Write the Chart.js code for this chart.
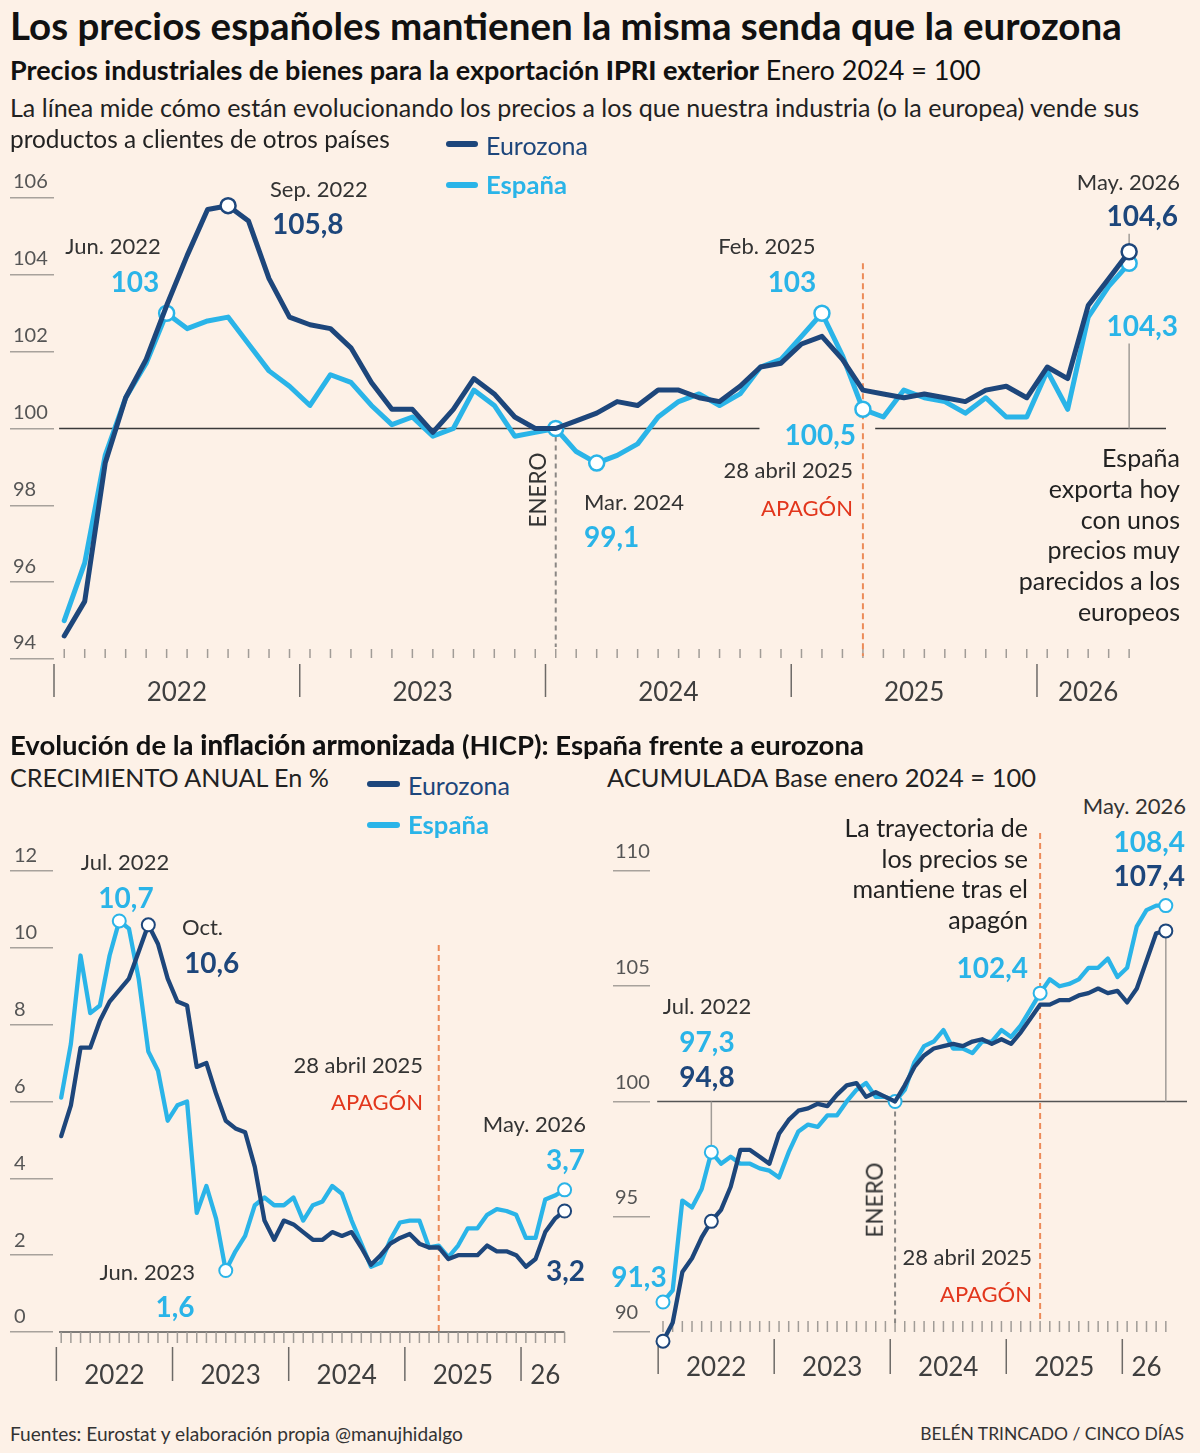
<!DOCTYPE html>
<html lang="es"><head><meta charset="utf-8">
<script src="https://cdn.jsdelivr.net/npm/chart.js@4.4.1/dist/chart.umd.min.js"></script>
<style>
html,body{margin:0;padding:0;background:#fdf1e7;}
body{width:1200px;height:1453px;position:relative;overflow:hidden;font-family:Lato,'Open Sans',sans-serif;color:#1a1a1a;}
.t{position:absolute;white-space:nowrap;line-height:1;z-index:2;}
.lg{position:absolute;height:6px;border-radius:3px;z-index:2;}
canvas{position:absolute;z-index:1;}
</style></head><body>
<canvas id="cTop" width="1200" height="580" style="left:0;top:150px"></canvas>
<canvas id="cHicp" width="600" height="590" style="left:0;top:830px"></canvas>
<canvas id="cAcc" width="600" height="590" style="left:600px;top:830px"></canvas>
<script>
// ---------- DATA ----------
const monthNames = ['ene','feb','mar','abr','may','jun','jul','ago','sep','oct','nov','dic'];
const categories = [];
for (let y = 2022; y <= 2026; y++) for (let m = 0; m < 12; m++) { if (y === 2026 && m > 4) break; categories.push(monthNames[m] + ' ' + y); }

const topYearLabels = ['2022', '2023', '2024', '2025', '2026'];
const hicpYearLabels = ['2022', '2023', '2024', '2025', '26'];

// IPRI exterior, base enero 2024 = 100
const ipriEurozona = [94.6, 95.5, 99.1, 100.8, 101.8, 103.2, 104.5, 105.7, 105.8, 105.4, 103.9, 102.9,
  102.7, 102.6, 102.1, 101.2, 100.5, 100.5, 99.9, 100.5, 101.3, 100.9, 100.3, 100.0,
  100.0, 100.2, 100.4, 100.7, 100.6, 101.0, 101.0, 100.8, 100.7, 101.1, 101.6, 101.7,
  102.2, 102.4, 101.8, 101.0, 100.9, 100.8, 100.9, 100.8, 100.7, 101.0, 101.1, 100.8,
  101.6, 101.3, 103.2, 103.9, 104.6];
const ipriEspana = [95.0, 96.5, 99.3, 100.8, 101.7, 103.0, 102.6, 102.8, 102.9, 102.2, 101.5, 101.1,
  100.6, 101.4, 101.2, 100.6, 100.1, 100.3, 99.8, 100.0, 101.0, 100.6, 99.8, 99.9,
  100.0, 99.4, 99.1, 99.3, 99.6, 100.3, 100.7, 100.9, 100.6, 100.9, 101.6, 101.8,
  102.4, 103.0, 101.9, 100.5, 100.3, 101.0, 100.8, 100.7, 100.4, 100.8, 100.3, 100.3,
  101.5, 100.5, 102.9, 103.7, 104.3];

// HICP crecimiento anual, %
const hicpEurozona = [5.1, 5.9, 7.4, 7.4, 8.1, 8.6, 8.9, 9.2, 9.9, 10.6, 10.1, 9.2,
  8.6, 8.5, 6.9, 7.0, 6.2, 5.5, 5.3, 5.2, 4.3, 2.9, 2.4, 2.9,
  2.8, 2.6, 2.4, 2.4, 2.6, 2.5, 2.6, 2.2, 1.75, 2.0, 2.3, 2.45,
  2.55, 2.3, 2.2, 2.2, 1.9, 2.0, 2.0, 2.0, 2.25, 2.1, 2.1, 2.0,
  1.7, 1.9, 2.6, 2.95, 3.15];
const hicpEspana = [6.1, 7.5, 9.8, 8.3, 8.5, 9.8, 10.7, 10.5, 9.2, 7.3, 6.8, 5.5,
  5.9, 6.0, 3.1, 3.8, 2.95, 1.6, 2.1, 2.5, 3.3, 3.5, 3.3, 3.3,
  3.5, 2.9, 3.3, 3.4, 3.8, 3.6, 2.9, 2.3, 1.7, 1.8, 2.4, 2.85,
  2.9, 2.9, 2.2, 2.25, 1.95, 2.25, 2.7, 2.7, 3.05, 3.2, 3.15, 3.05,
  2.45, 2.45, 3.45, 3.55, 3.7];

// HICP acumulada, base enero 2024 = 100
const accEurozona = [89.6, 90.4, 92.6, 93.2, 94.1, 94.8, 95.3, 96.3, 97.9, 97.9, 97.6, 97.3,
  98.6, 99.2, 99.6, 99.7, 99.9, 99.8, 100.3, 100.7, 100.8, 100.2, 100.4, 100.2,
  100.0, 100.7, 101.5, 102.0, 102.3, 102.4, 102.5, 102.4, 102.6, 102.7, 102.5, 102.7,
  102.5, 103.0, 103.6, 104.2, 104.2, 104.4, 104.4, 104.6, 104.7, 104.9, 104.7, 104.8,
  104.3, 104.9, 106.1, 107.3, 107.4];
const accEspana = [91.3, 91.8, 95.7, 95.4, 96.2, 97.8, 97.3, 97.6, 97.3, 97.3, 97.1, 97.0,
  96.7, 97.8, 98.7, 99.0, 98.9, 99.4, 99.4, 100.0, 100.5, 100.8, 100.2, 100.2,
  100.0, 100.5, 101.7, 102.4, 102.6, 103.1, 102.3, 102.3, 102.1, 102.6, 102.6, 103.1,
  102.8, 103.3, 104.0, 104.7, 105.3, 105.0, 105.1, 105.3, 105.8, 105.8, 106.2, 105.4,
  105.8, 107.6, 108.3, 108.5, 108.5];

// ---------- STYLE ----------
const DARK = '#1d467b', LIGHT = '#2ab4e8', ORANGE = '#ec8b59', RED = '#e2361c';
const GRIDC = '#a8a29c', TICKC = '#a19c97', SEPC = '#6d6a67';
const FONT = 'Lato, "Open Sans", sans-serif';
Chart.defaults.font.family = FONT;

const last = categories.length - 1;
const iEnero = categories.indexOf('ene 2024');
const iApagon = categories.indexOf('abr 2025');
const yearBounds = [];
categories.forEach((c, i) => { if (c.startsWith('ene')) yearBounds.push(i - 0.5); });
const yearCenters = yearBounds.map((b, k) => (b + (k + 1 < yearBounds.length ? yearBounds[k + 1] : last + 0.5)) / 2);

function seg(ctx, x1, y1, x2, y2, color, w, dash) {
  ctx.save();
  ctx.beginPath();
  ctx.strokeStyle = color; ctx.lineWidth = w; ctx.setLineDash(dash || []);
  ctx.moveTo(x1, y1); ctx.lineTo(x2, y2); ctx.stroke();
  ctx.restore();
}

function buildChart(id, cfg) {
  const mk = (label, vals, color, marks) => ({
    label, data: vals.map((v, i) => ({ x: i, y: v })),
    borderColor: color, borderWidth: cfg.lw, borderJoinStyle: 'round', borderCapStyle: 'round',
    pointRadius: c => marks.includes(c.dataIndex) ? cfg.pr : 0,
    pointHoverRadius: 0, pointBackgroundColor: '#ffffff', pointBorderColor: color, pointBorderWidth: cfg.pbw,
    tension: 0, clip: false
  });
  return new Chart(document.getElementById(id), {
    type: 'line',
    data: { datasets: [mk('Eurozona', cfg.ez, DARK, cfg.ezMarks), mk('España', cfg.es, LIGHT, cfg.esMarks)] },
    options: {
      responsive: false, animation: false, events: [],
      layout: { padding: cfg.pad },
      plugins: { legend: { display: false }, tooltip: { enabled: false } },
      scales: {
        x: {
          type: 'linear', min: cfg.xmin, max: cfg.xmax,
          afterFit: s => { s.height = cfg.xh; },
          afterBuildTicks: s => { s.ticks = yearCenters.map(v => ({ value: v })); },
          ticks: { autoSkip: false, maxRotation: 0, padding: cfg.xpad, color: '#3f3f3f',
            font: { family: FONT, size: 26 }, callback: (v, i) => cfg.years[i] },
          grid: { display: false, drawTicks: false }, border: { display: false }
        },
        y: {
          min: cfg.ymin, max: cfg.ymax,
          afterFit: s => { s.width = cfg.yw; },
          ticks: { stepSize: cfg.ystep, includeBounds: false, crossAlign: 'far', labelOffset: cfg.ylo, color: '#555',
            font: { family: FONT, size: 20 } },
          grid: { drawOnChartArea: false, drawTicks: true, tickLength: cfg.tl, color: GRIDC, lineWidth: 1.5 },
          border: { display: false }
        }
      }
    },
    plugins: [{
      id: 'deco',
      beforeDatasetsDraw(chart) {
        const X = v => chart.scales.x.getPixelForValue(v), Y = v => chart.scales.y.getPixelForValue(v);
        cfg.deco(chart.ctx, X, Y, chart.chartArea);
      }
    }]
  });
}

// ---------- TOP: IPRI ----------
buildChart('cTop', {
  ez: ipriEurozona, es: ipriEspana,
  ezMarks: [8, last], esMarks: [5, iEnero, iEnero + 2, 37, iApagon, last],
  lw: 5, pr: 7.5, pbw: 2.5,
  pad: { left: 13, top: 48, right: 34, bottom: 11 }, xh: 60,
  xmin: -0.5, xmax: 53.8, xpad: 18, years: topYearLabels,
  ymin: 94, ymax: 106, ystep: 2, yw: 41, tl: 44, ylo: -16,
  deco: (ctx, X, Y, a) => {
    seg(ctx, X(-0.25), Y(100), X(33.95), Y(100), '#3a3a3a', 1.5);
    seg(ctx, X(39.6), Y(100), a.right, Y(100), '#3a3a3a', 1.5);
    for (let i = 0; i <= last; i++) seg(ctx, X(i), a.bottom - 10, X(i), a.bottom - 1, TICKC, 1.5);
    yearBounds.forEach(b => seg(ctx, X(b), a.bottom + 5, X(b), a.bottom + 38, SEPC, 1.5));
    seg(ctx, X(iEnero), Y(100) + 8, X(iEnero), a.bottom - 12, '#8a8784', 2, [5, 4]);
    seg(ctx, X(iApagon), Y(104.3), X(iApagon), a.bottom - 3, ORANGE, 2, [6, 4]);
    seg(ctx, X(last), Y(ipriEurozona[last]) - 18, X(last), Y(ipriEurozona[last]) - 6, TICKC, 1.5);
    seg(ctx, X(last), Y(100) - 85, X(last), Y(100), TICKC, 1.5);
  }
});

// ---------- BOTTOM LEFT: HICP anual ----------
buildChart('cHicp', {
  ez: hicpEurozona, es: hicpEspana,
  ezMarks: [9, last], esMarks: [6, 17, last],
  lw: 4.3, pr: 6.5, pbw: 2,
  pad: { left: 14, top: 41, right: 32.5, bottom: 8 }, xh: 80,
  xmin: -0.847, xmax: 52.3, xpad: 28, years: hicpYearLabels,
  ymin: 0, ymax: 12, ystep: 2, yw: 39, tl: 43, ylo: -15,
  deco: (ctx, X, Y, a) => {
    seg(ctx, X(-0.23), Y(0), X(last), Y(0), '#555', 1.5);
    for (let i = 0; i <= last; i++) seg(ctx, X(i), Y(0), X(i), Y(0) + 11, TICKC, 1.5);
    yearBounds.forEach(b => seg(ctx, X(b), a.bottom + 15, X(b), a.bottom + 49, SEPC, 1.5));
    seg(ctx, X(iApagon), a.top + 74, X(iApagon), Y(0), ORANGE, 2, [6, 4]);
  }
});

// ---------- BOTTOM RIGHT: HICP acumulada ----------
buildChart('cAcc', {
  ez: accEurozona, es: accEspana,
  ezMarks: [0, 5, last], esMarks: [0, 5, iEnero, iApagon, last],
  lw: 4.3, pr: 6.5, pbw: 2,
  pad: { left: 15, top: 41, right: 13, bottom: 6.5 }, xh: 70,
  xmin: -1.344, xmax: 54.19, xpad: 9, years: hicpYearLabels,
  ymin: 89.5, ymax: 110, ystep: 5, yw: 35, tl: 37, ylo: -19,
  deco: (ctx, X, Y, a) => {
    const b90 = Y(90);
    seg(ctx, X(-0.6), Y(100), a.right, Y(100), '#555', 1.5);
    for (let i = 0; i <= last; i++) seg(ctx, X(i), b90 - 11, X(i), b90, TICKC, 1.5);
    yearBounds.forEach(b => seg(ctx, X(b), b90 + 7, X(b), b90 + 42, SEPC, 1.5));
    seg(ctx, X(iEnero), Y(100) + 1, X(iEnero), b90 - 9, '#8a8784', 2, [5, 4]);
    seg(ctx, X(iApagon), a.top - 48, X(iApagon), b90 - 9, ORANGE, 2, [6, 4]);
    seg(ctx, X(last), Y(accEurozona[last]) + 7, X(last), Y(100), TICKC, 1.5);
    seg(ctx, X(5), Y(100), X(5), Y(accEspana[5]) - 6, TICKC, 1.5);
  }
});

// ---------- TEXT ----------
function T(html, x, cy, o) {
  o = o || {};
  const d = document.createElement('div');
  d.className = 't';
  d.innerHTML = html;
  d.style.fontSize = (o.size || 22) + 'px';
  d.style.fontWeight = o.w || 400;
  d.style.color = o.c || '#333';
  d.style.top = cy + 'px';
  const al = o.a || 'l';
  let tx = '0';
  if (al === 'l') d.style.left = x + 'px';
  else if (al === 'c') { d.style.left = x + 'px'; tx = '-50%'; }
  else { d.style.right = (1200 - x) + 'px'; }
  d.style.transform = o.rot ? 'translate(-50%,-50%) rotate(-90deg)' : 'translate(' + tx + ',-50%)';
  if (o.rot) d.style.left = x + 'px';
  document.body.appendChild(d);
  if (o.fit) {
    const w = d.getBoundingClientRect().width;
    d.style.fontSize = ((o.size || 22) * o.fit / w) + 'px';
  }
  return d;
}
function L(x, y, w, color) {
  const d = document.createElement('div');
  d.className = 'lg';
  d.style.left = x + 'px'; d.style.top = (y - 3) + 'px'; d.style.width = w + 'px'; d.style.background = color;
  document.body.appendChild(d);
}

// Header
T('Los precios españoles mantienen la misma senda que la eurozona', 10, 25, { size: 34, w: 700, c: '#111', fit: 1112 });
T('<span style="font-weight:700">Precios industriales de bienes para la exportación </span><span style="font-weight:900">IPRI exterior</span> Enero 2024 = 100', 10, 70, { size: 24, c: '#111', fit: 971 });
T('La línea mide cómo están evolucionando los precios a los que nuestra industria (o la europea) vende sus', 10, 108, { size: 22.5, c: '#222', fit: 1130 });
T('productos a clientes de otros países', 10, 139, { size: 22.5, c: '#222', fit: 380 });
L(446, 144, 32, DARK); T('Eurozona', 486, 145, { size: 23, c: DARK, fit: 102 });
L(446, 185, 32, LIGHT); T('España', 486, 185, { size: 23, w: 700, c: LIGHT, fit: 81 });

// Top annotations
T('Sep. 2022', 270, 189, { size: 22 });
T('105,8', 272, 223, { size: 28, w: 700, c: DARK });
T('Jun. 2022', 113, 246, { size: 22, a: 'c' });
T('103', 135, 281, { size: 28, w: 700, c: LIGHT, a: 'c' });
T('Feb. 2025', 767, 246, { size: 22, a: 'c' });
T('103', 792, 281, { size: 28, w: 700, c: LIGHT, a: 'c' });
T('May. 2026', 1180, 182, { size: 22, a: 'r' });
T('104,6', 1178, 215, { size: 28, w: 700, c: DARK, a: 'r' });
T('104,3', 1178, 325, { size: 28, w: 700, c: LIGHT, a: 'r' });
T('100,5', 856, 434, { size: 28, w: 700, c: LIGHT, a: 'r' });
T('28 abril 2025', 853, 470, { size: 22, a: 'r' });
T('APAGÓN', 853, 508, { size: 22, c: RED, a: 'r' });
T('Mar. 2024', 584, 502, { size: 22 });
T('99,1', 584, 536, { size: 28, w: 700, c: LIGHT });
T('ENERO', 538, 490, { size: 22.5, rot: true });
['España', 'exporta hoy', 'con unos', 'precios muy', 'parecidos a los', 'europeos'].forEach((s, k) =>
  T(s, 1180, 457 + k * 30.8, { size: 25, c: '#222', a: 'r' }));

// Bottom headers
T('<span style="font-weight:700">Evolución de la </span><span style="font-weight:900">inflación armonizada</span><span style="font-weight:700"> (HICP): España frente a eurozona</span>', 10, 745, { size: 24, c: '#111', fit: 854 });
T('CRECIMIENTO ANUAL En %', 10, 778, { size: 23, c: '#222', fit: 319 });
L(367, 784, 33, DARK); T('Eurozona', 408, 785, { size: 23, c: DARK, fit: 102 });
L(367, 825, 33, LIGHT); T('España', 408, 825, { size: 23, w: 700, c: LIGHT, fit: 81 });
T('ACUMULADA Base enero 2024 = 100', 607, 778, { size: 23, c: '#222', fit: 429 });

// Bottom-left annotations
T('Jul. 2022', 125, 862, { size: 22, a: 'c' });
T('10,7', 126, 897, { size: 28, w: 700, c: LIGHT, a: 'c' });
T('Oct.', 182, 927, { size: 22 });
T('10,6', 184, 962, { size: 28, w: 700, c: DARK });
T('28 abril 2025', 423, 1065, { size: 22, a: 'r' });
T('APAGÓN', 423, 1102, { size: 22, c: RED, a: 'r' });
T('May. 2026', 586, 1124, { size: 22, a: 'r' });
T('3,7', 585, 1159, { size: 28, w: 700, c: LIGHT, a: 'r' });
T('Jun. 2023', 195, 1272, { size: 22, a: 'r' });
T('1,6', 175, 1306, { size: 28, w: 700, c: LIGHT, a: 'c' });
T('3,2', 585, 1270, { size: 28, w: 700, c: DARK, a: 'r' });

// Bottom-right annotations
T('May. 2026', 1186, 806, { size: 22, a: 'r' });
T('108,4', 1185, 841, { size: 28, w: 700, c: LIGHT, a: 'r' });
T('107,4', 1185, 875, { size: 28, w: 700, c: DARK, a: 'r' });
['La trayectoria de', 'los precios se', 'mantiene tras el', 'apagón'].forEach((s, k) =>
  T(s, 1028, 827 + k * 30.5, { size: 25, c: '#222', a: 'r' }));
T('102,4', 1028, 967, { size: 28, w: 700, c: LIGHT, a: 'r' });
T('Jul. 2022', 707, 1006, { size: 22, a: 'c' });
T('97,3', 707, 1041, { size: 28, w: 700, c: LIGHT, a: 'c' });
T('94,8', 707, 1076, { size: 28, w: 700, c: DARK, a: 'c' });
T('91,3', 639, 1276, { size: 28, w: 700, c: LIGHT, a: 'c' });
T('ENERO', 875, 1200, { size: 22.5, rot: true });
T('28 abril 2025', 1032, 1257, { size: 22, a: 'r' });
T('APAGÓN', 1032, 1294, { size: 22, c: RED, a: 'r' });

// Footer
T('Fuentes: Eurostat y elaboración propia @manujhidalgo', 10, 1434, { size: 17, c: '#333', fit: 453 });
T('BELÉN TRINCADO / CINCO DÍAS', 1184, 1434, { size: 17, c: '#333', a: 'r', fit: 264 });
</script>
</body></html>
